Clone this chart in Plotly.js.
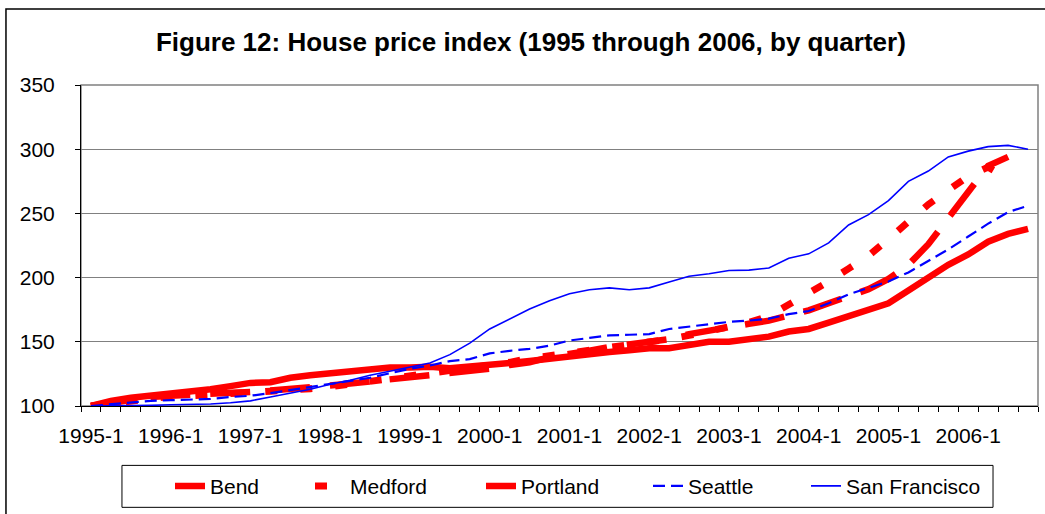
<!DOCTYPE html>
<html>
<head>
<meta charset="utf-8">
<script src="https://cdn.plot.ly/plotly-3.0.1.min.js"></script>
<style>
  html, body { margin: 0; padding: 0; background: #fff; overflow: hidden; }
  #chart { width: 1045px; height: 514px; }
</style>
</head>
<body>
<div id="chart"></div>
<script>
// ---- data ----
const years = [1995, 1996, 1997, 1998, 1999, 2000, 2001, 2002, 2003, 2004, 2005, 2006];
const quarters = [];
years.forEach(y => { for (let q = 1; q <= 4; q++) quarters.push(y + "-" + q); });

const tickLabels = ["1995-1", "1996-1", "1997-1", "1998-1", "1999-1", "2000-1",
                    "2001-1", "2002-1", "2003-1", "2004-1", "2005-1", "2006-1"];

const bend = [100, 102.5, 105, 107, 108, 108.5, 109, 110, 111, 112, 113, 114.5,
              116, 117.5, 119, 120.5, 122, 123.5, 125, 127, 129, 132, 134, 138,
              140, 143, 146, 148, 150, 152, 156, 159, 162, 164, 166.5, 170,
              174.5, 180, 186, 191, 199, 210, 226, 247, 267, 287, 294, null];

const medford = [100, 102, 104.5, 106, 107.5, 108, 108.5, 109.5, 110.5, 111.5, 112, 113.5,
                 115, 117, 119, 121, 123.5, 126, 128, 130, 132, 134, 137, 139,
                 141, 143, 145, 147.5, 149.5, 152, 155, 158, 161, 165, 170, 179,
                 187, 197, 207, 217, 230, 244, 257, 268, 279, 286, 277, null];

const portland = [100, 104, 106.5, 108, 110.5, 111, 113, 115.5, 118, 118.5, 122, 124,
                  125.5, 127, 128.5, 130, 130, 130.5, 129.5, 130.5, 132.5, 133.5, 135, 137,
                  139, 141, 142, 143.5, 145, 145, 148, 150, 150, 151.5, 154, 158,
                  160, 165, 170, 175, 180, 190, 200, 210, 218, 228, 234, 238];

const seattle = [100, 101.5, 102.5, 104, 104.5, 105, 105.5, 107, 108, 110, 112.5, 115,
                 117.5, 119.5, 122, 125.5, 129, 131.5, 135, 136.5, 141, 143, 144.5, 147,
                 151, 153, 155, 155.5, 156, 160, 162, 164, 165.5, 166.5, 168, 171.5,
                 174, 180, 187, 192, 197, 204, 213, 222, 232, 242, 251, 256];

const sanFrancisco = [100, 100, 100.5, 100.5, 101, 101, 101.5, 102.5, 104, 107, 110, 113,
                      117, 120, 124, 127, 130, 133.5, 140, 149, 160, 168, 175.5, 182,
                      187.5, 190.5, 192, 190.5, 192, 196.5, 201, 203, 205.5, 205.8, 207.5, 215,
                      218.5, 227, 241, 249, 260, 275, 283, 294, 298.5, 302, 303, 300];

// ---- chart ----
const xIdx = quarters.map((q, i) => i);
const tickVals = [];
const tickText = [];
for (let k = 0; k <= quarters.length; k++) {
  tickVals.push(k - 0.5);
  tickText.push(k % 4 === 0 && k / 4 < tickLabels.length ? tickLabels[k / 4] : "");
}

const FONT = "Liberation Sans, Arial, sans-serif";
const RED = "#FF0000", BLUE = "#0000FF";

function mk(name, y, color, width, dash, lw) {
  return {
    type: "scatter", mode: "lines", name: name,
    x: xIdx, y: y, text: quarters, connectgaps: false,
    line: { color: color, width: width, dash: dash },
    legendwidth: lw
  };
}

const traces = [
  mk("Bend", bend, RED, 6.5, "40px,20px", 95),
  mk("Medford", medford, RED, 7, "12px,23px", 126),
  mk("Portland", portland, RED, 6.5, "solid", 122),
  mk("Seattle", seattle, BLUE, 2.2, "12px,6px", 113),
  mk("San Francisco", sanFrancisco, BLUE, 1.6, "solid", 145)
];

const layout = {
  width: 1045, height: 514,
  margin: { l: 81, r: 7, t: 85, b: 108 },
  paper_bgcolor: "#ffffff", plot_bgcolor: "#ffffff",
  font: { family: FONT, color: "#000", size: 21 },
  title: {
    text: "<b>Figure 12: House price index (1995 through 2006, by quarter)</b>",
    font: { family: FONT, size: 26, color: "#000" },
    xref: "container", x: 0.508, xanchor: "center",
    yref: "container", y: 0.918, yanchor: "middle"
  },
  xaxis: {
    range: [-0.5, 47.5], tickmode: "array", tickvals: tickVals, ticktext: tickText,
    ticks: "outside", ticklen: 5, tickcolor: "#000", tickwidth: 1,
    ticklabelshift: 10, ticklabelstandoff: 6,
    showgrid: false, zeroline: false, showline: true, linecolor: "#000", linewidth: 1,
    tickfont: { family: FONT, size: 21, color: "#000" }, fixedrange: true
  },
  yaxis: {
    range: [100, 350], tickmode: "linear", tick0: 100, dtick: 50,
    ticks: "outside", ticklen: 5, tickcolor: "#000", tickwidth: 1,
    ticklabelstandoff: 16,
    showgrid: true, gridcolor: "#808080", gridwidth: 1.2,
    zeroline: false, showline: true, linecolor: "#000", linewidth: 1,
    tickfont: { family: FONT, size: 21, color: "#000" }, fixedrange: true
  },
  showlegend: true,
  legend: {
    orientation: "h", x: 0.093, xanchor: "left", y: -0.25, yanchor: "middle",
    font: { family: FONT, size: 21, color: "#000" },
    bgcolor: "rgba(0,0,0,0)", borderwidth: 0, traceorder: "normal"
  },
  shapes: [
    { type: "rect", xref: "paper", yref: "paper", x0: 0, x1: 1, y0: 0, y1: 1,
      line: { color: "#808080", width: 1.5 }, layer: "below" },
    { type: "rect", xref: "paper", yref: "paper", x0: 0.0428, x1: 0.953, y0: -0.3157, y1: -0.185,
      line: { color: "#000", width: 1 }, layer: "above" },
    { type: "rect", xref: "paper", yref: "paper", x0: -0.0784, x1: 1.2, y0: -0.6, y1: 1.2364,
      line: { color: "#000", width: 1.5 }, layer: "above" }
  ]
};

Plotly.newPlot("chart", traces, layout, { displayModeBar: false, staticPlot: true });
</script>
</body>
</html>
